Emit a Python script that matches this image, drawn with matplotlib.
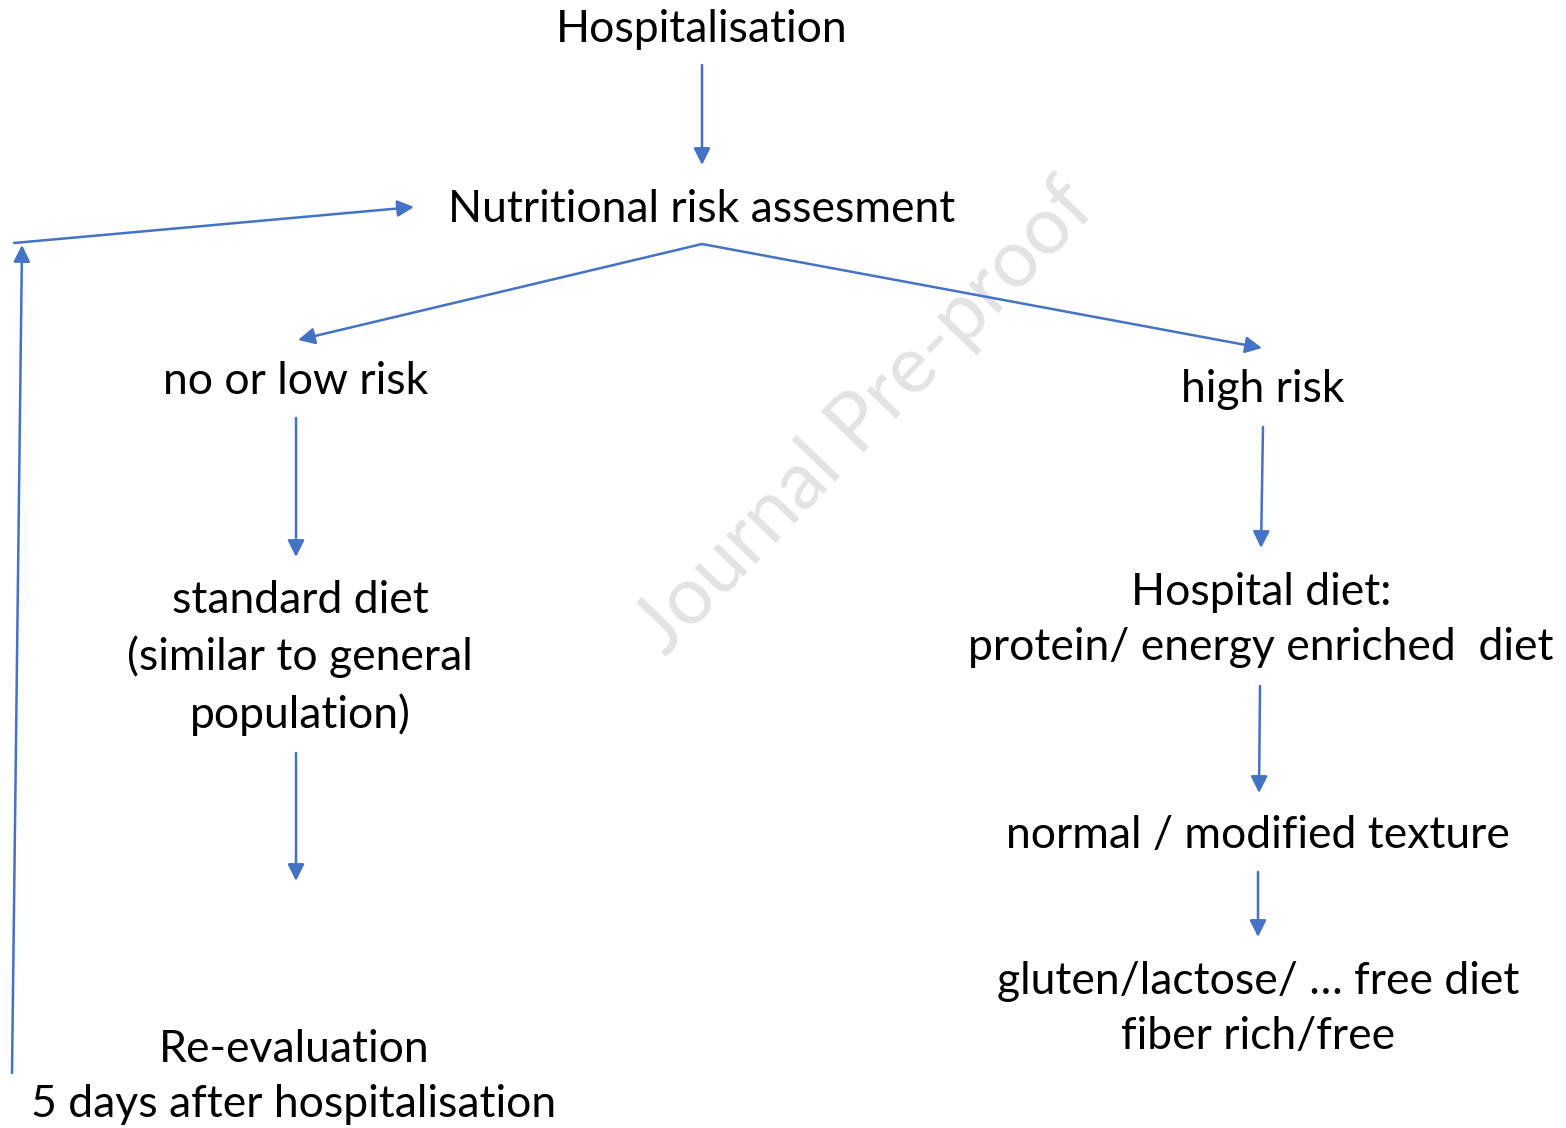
import matplotlib.pyplot as plt

# node labels and their centres (pixel coords, y downward)
labels = [
    "Hospitalisation",
    "Nutritional risk assesment",
    "no or low risk",
    "high risk",
    "standard diet\n(similar to general\npopulation)",
    "Hospital diet:\nprotein/ energy enriched  diet",
    "normal / modified texture",
    "gluten/lactose/ \u2026 free diet\nfiber rich/free",
    "Re-evaluation\n5 days after hospitalisation",
]
label_x = [702, 702, 296, 1263, 300, 1261, 1258, 1258, 294]
label_y = [29, 209, 382, 390, 658, 620, 835, 1009, 1077]

# arrows: start -> end
arrow_from = [(702, 65), (702, 244), (702, 244), (296, 418), (1263, 427),
              (296, 753), (1260, 686), (1258, 872), (12, 1073), (14, 243)]
arrow_to = [(702, 165), (298, 340), (1262, 348), (296, 557), (1261, 548),
            (296, 881), (1259, 793), (1258, 937), (22, 245), (414, 207)]

blue = '#4472C4'
font = ['Lato', 'DejaVu Sans']

fig = plt.figure(figsize=(15.66, 11.28), dpi=100)
ax = fig.add_axes([0, 0, 1, 1])
ax.set_xlim(0, 1566)
ax.set_ylim(1128, 0)
ax.axis('off')

# watermark
ax.text(865, 418, "Journal Pre-proof", rotation=46, color='#e3e3e3',
        fontsize=58, ha='center', va='center', family=font, zorder=0)

for (x0, y0), (x1, y1) in zip(arrow_from, arrow_to):
    ax.annotate('', xy=(x1, y1), xytext=(x0, y0),
                arrowprops=dict(arrowstyle='-|>', color=blue, lw=1.8,
                                mutation_scale=25, shrinkA=0, shrinkB=0))

for t, x, y in zip(labels, label_x, label_y):
    ax.text(x, y, t, ha='center', va='center', fontsize=32, family=font,
            color='black', linespacing=1.43, zorder=3)

fig.savefig('out.png', dpi=100)
